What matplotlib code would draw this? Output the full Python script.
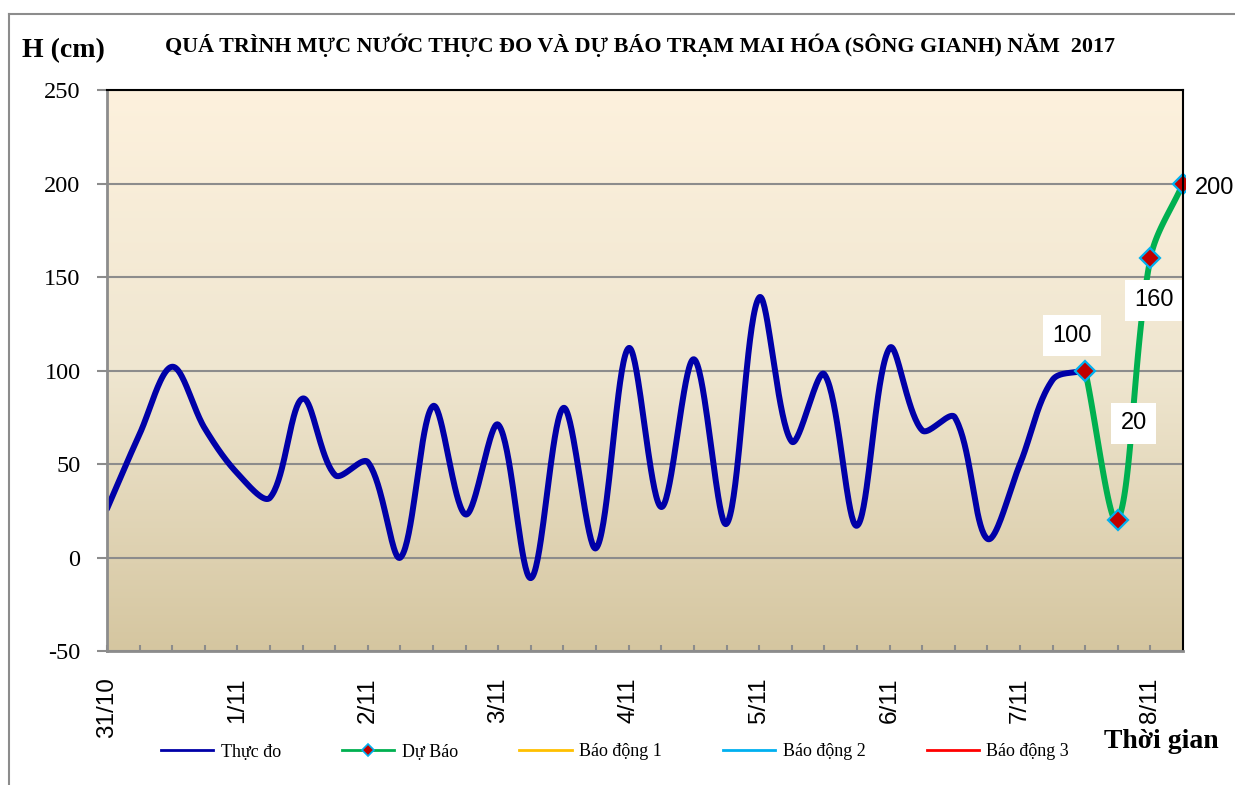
import numpy as np
import matplotlib
matplotlib.use('Agg')
import matplotlib.pyplot as plt
from matplotlib.lines import Line2D
from matplotlib.colors import LinearSegmentedColormap

plt.rcParams['axes.unicode_minus'] = False

# day labels on the x axis, data every 6 hours (4 steps per day)
day_labels = ["31/10", "1/11", "2/11", "3/11", "4/11", "5/11", "6/11", "7/11", "8/11"]
steps_per_day = 4

# observed water level (cm), 6-hourly from 31/10
observed = [26, 66, 102, 69, 45, 32, 85, 44, 51, 0,
            81, 23, 71, -11, 80, 5, 112, 27, 106, 18,
            139, 62, 98, 17, 112, 68, 75, 10, 50, 95,
            100]
# forecast, starting at the last observed step
forecast = [100, 20, 160, 200]
forecast_start = 30

legend_names = ["Thực đo", "Dự Báo", "Báo động 1", "Báo động 2", "Báo động 3"]

W, H = 1235, 785
fig = plt.figure(figsize=(W / 100, H / 100), dpi=100)
ax = fig.add_axes([107 / W, 1 - 651 / H, (1183 - 107) / W, (651 - 90) / H])

n_steps = (len(day_labels) - 1) * steps_per_day + 1
x_max = n_steps / steps_per_day
ax.set_xlim(0, x_max)
ax.set_ylim(-50, 250)

# gradient background
cmap = LinearSegmentedColormap.from_list("bg", ["#FDF1DD", "#EFE6D0", "#D5C6A0"])
ax.imshow(np.linspace(0, 1, 256)[:, None], aspect='auto', cmap=cmap,
          extent=[0, x_max, -50, 250], origin='upper', zorder=0, interpolation='bicubic')
ax.set_xlim(0, x_max)
ax.set_ylim(-50, 250)


def smooth(ax, xs, ys, n=40):
    # excel-like smoothed line (bezier, handles weighted by segment length)
    pts = ax.transData.transform(np.column_stack([xs, ys]))
    m = len(pts)
    out = [pts[0]]
    t = np.linspace(0, 1, n)[1:, None]
    for i in range(m - 1):
        p0 = pts[max(i - 1, 0)]
        p1 = pts[i]
        p2 = pts[i + 1]
        p3 = pts[min(i + 2, m - 1)]
        d0 = np.hypot(*(p1 - p0))
        d1 = np.hypot(*(p2 - p1))
        d2 = np.hypot(*(p3 - p2))
        c1 = p1 + (p2 - p0) * (d1 / (d0 + d1)) / 3
        c2 = p2 - (p3 - p1) * (d1 / (d1 + d2)) / 3
        seg = (1 - t) ** 3 * p1 + 3 * (1 - t) ** 2 * t * c1 + 3 * (1 - t) * t ** 2 * c2 + t ** 3 * p2
        out.extend(seg)
    return ax.transData.inverted().transform(np.array(out))


x_obs = np.arange(len(observed)) / steps_per_day
x_fc = (forecast_start + np.arange(len(forecast))) / steps_per_day

blue = '#0000A8'
green = '#00B050'
c_obs = smooth(ax, x_obs, observed)
c_fc = smooth(ax, x_fc, forecast)
ax.plot(c_obs[:, 0], c_obs[:, 1], color=blue, lw=4.3, solid_capstyle='round', zorder=3)
ax.plot(c_fc[:, 0], c_fc[:, 1], color=green, lw=4.3, solid_capstyle='round', zorder=3)
ax.plot(x_fc, forecast, ls='none', marker='D', markersize=10, markerfacecolor='#C00000',
        markeredgecolor='#00B0F0', markeredgewidth=1.6, zorder=4, clip_on=False)

# data labels
offsets = [(-13, 35), (16, 97), (4, -42), (32, -4)]
for xv, yv, off in zip(x_fc, forecast, offsets):
    ax.annotate(str(yv), (xv, yv), xytext=off, textcoords='offset pixels',
                ha='center', va='center', fontsize=17, family='Liberation Sans',
                bbox=dict(boxstyle='square,pad=0.4', fc='white', ec='none'),
                annotation_clip=False, zorder=5)

# grid and axes
ax.set_yticks(np.arange(-50, 251, 50))
ax.grid(axis='y', color='#8C8C8C', lw=1.5, zorder=1)
ax.set_axisbelow(False)
ax.tick_params(axis='y', direction='out', length=7, width=1.5, color='#8C8C8C', pad=12,
               labelsize=17.5)
for lbl in ax.get_yticklabels():
    lbl.set_family('Liberation Serif')

ax.set_xticks(np.arange(len(day_labels)))
ax.set_xticklabels(day_labels, rotation=90, fontsize=17.5, family='Liberation Sans')
ax.set_xticks(np.arange(n_steps) / steps_per_day, minor=True)
ax.tick_params(axis='x', which='both', direction='in', length=4, width=1.5, color='#8C8C8C', pad=19)

for side in ['top', 'right']:
    ax.spines[side].set_color('black')
    ax.spines[side].set_linewidth(1.5)
for side in ['left', 'bottom']:
    ax.spines[side].set_color('#8C8C8C')
    ax.spines[side].set_linewidth(2)
for sp in ax.spines.values():
    sp.set_zorder(6)

# texts
fig.text(640 / W, 1 - 45 / H, "QUÁ TRÌNH MỰC NƯỚC THỰC ĐO VÀ DỰ BÁO TRẠM MAI HÓA (SÔNG GIANH) NĂM  2017",
         ha='center', va='center', fontsize=15.8, fontweight='bold', family='Liberation Serif')
fig.text(22 / W, 1 - 51 / H, "H (cm)", ha='left', va='center', fontsize=20,
         fontweight='bold', family='Liberation Serif')
fig.text(1161 / W, 1 - 742 / H, "Thời gian", ha='center', va='center', fontsize=20,
         fontweight='bold', family='Liberation Serif')

# legend (alarm levels have no points inside the chart range)
handles = [
    Line2D([], [], color=blue, lw=2),
    Line2D([], [], color=green, lw=2, marker='D', markersize=6, markerfacecolor='#C00000',
           markeredgecolor='#00B0F0', markeredgewidth=1.2),
    Line2D([], [], color='#FFC000', lw=2),
    Line2D([], [], color='#00B0F0', lw=2),
    Line2D([], [], color='#FF0000', lw=2),
]
fig.legend(handles, legend_names, loc='center', bbox_to_anchor=(615 / W, 1 - 752 / H), ncol=5,
           frameon=False, prop={'family': 'Liberation Serif', 'size': 13},
           handlelength=2.9, handletextpad=0.4, columnspacing=3.4)

# outer chart frame
fig.add_artist(Line2D([9 / W, 9 / W], [0, 1 - 14 / H], transform=fig.transFigure, color='#8C8C8C', lw=1.5))
fig.add_artist(Line2D([9 / W, 1], [1 - 14 / H, 1 - 14 / H], transform=fig.transFigure, color='#8C8C8C', lw=1.5))

fig.savefig('out.png', dpi=100, facecolor='white')
